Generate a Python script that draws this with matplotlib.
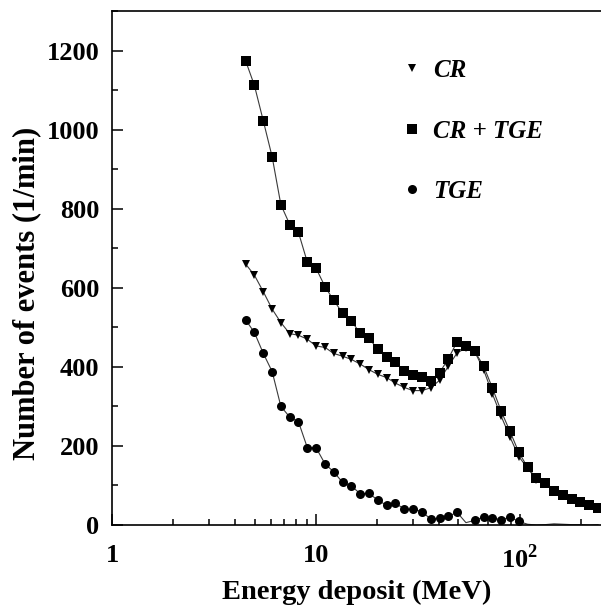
import numpy as np
import matplotlib
matplotlib.use('Agg')
import matplotlib.pyplot as plt
from matplotlib.ticker import FixedLocator, FixedFormatter, LogLocator, NullFormatter, MultipleLocator

plt.rcParams['font.family'] = 'Liberation Serif'
plt.rcParams['font.weight'] = 'bold'
plt.rcParams['mathtext.fontset'] = 'custom'
plt.rcParams['mathtext.rm'] = 'Liberation Serif:bold'
plt.rcParams['mathtext.bf'] = 'Liberation Serif:bold'

# energy bins (MeV)
energy = [4.52, 4.99, 5.52, 6.10, 6.73, 7.44, 8.21, 9.07, 10.0, 11.1,
          12.2, 13.5, 14.9, 16.5, 18.2, 20.1, 22.2, 24.5, 27.1, 29.9,
          33.1, 36.5, 40.4, 44.6, 49.2, 54.4, 60.1, 66.4, 73.3, 81.0,
          89.4, 98.8, 109.1, 120.5, 133.1, 147.0, 162.4, 179.4, 198.2, 218.9,
          241.8]

# counts per minute
cr_tge = [1174, 1112, 1022, 931, 810, 760, 740, 665, 650, 602,
          569, 536, 516, 485, 473, 444, 424, 412, 389, 380,
          374, 363, 385, 421, 463, 454, 439, 402, 347, 288,
          237, 184, 146, 118, 106, 87, 77, 65, 57, 50,
          42]
cr = [660, 632, 590, 546, 512, 484, 480, 470, 453, 449,
      434, 427, 419, 407, 393, 381, 373, 359, 348, 340,
      340, 347, 366, 402, 435, 448, 438, 393, 332, 275,
      223, 173, 144, 115, 104, 85, 75, 63, 55, 48,
      41]
tge = [519, 487, 434, 388, 300, 273, 261, 196, 196, 154,
       135, 108, 99, 79, 80, 63, 50, 56, 40, 40,
       34, 15, 17, 22, 32, 6, 12, 20, 18, 13,
       20, 9, 2, 0, 1, 3, 2, 1, 1, 0,
       1]
tge_marked = [i for i in range(32) if i != 25]

fig = plt.figure(figsize=(6.01, 6.10), dpi=100)
ax = fig.add_axes([0.1864, 0.1393, 0.8136, 0.8427])

line_kw = dict(color='#3a3a3a', lw=0.8, markeredgewidth=0)
ax.plot(energy, cr, marker='v', ms=6, mfc='black', label='CR', **line_kw)
ax.plot(energy, cr_tge, marker='s', ms=6.5, mfc='black', label='CR + TGE', **line_kw)
ax.plot(energy, tge, marker='o', ms=6.5, mfc='black', markevery=tge_marked,
        label='TGE', **line_kw)

ax.set_xscale('log')
ax.set_xlim(1, 250)
ax.set_ylim(0, 1300)

ax.xaxis.set_major_locator(FixedLocator([1, 10, 100]))
ax.xaxis.set_major_formatter(FixedFormatter(['1', '10', '$10^2$']))
ax.xaxis.set_minor_locator(LogLocator(base=10, subs=np.arange(2, 10)))
ax.xaxis.set_minor_formatter(NullFormatter())
ax.yaxis.set_major_locator(MultipleLocator(200))
ax.yaxis.set_minor_locator(MultipleLocator(100))

ax.tick_params(which='both', direction='in', top=False, right=False,
               width=1.1, labelsize=19)
ax.tick_params(which='major', length=8)
ax.tick_params(axis='x', which='major', pad=14)
ax.tick_params(axis='y', which='major', pad=9)
ax.tick_params(which='minor', length=4)
for lab in ax.get_xticklabels() + ax.get_yticklabels():
    lab.set_fontweight('bold')

for side in ['left', 'bottom', 'top']:
    ax.spines[side].set_linewidth(1.2)
ax.spines['right'].set_visible(False)

ax.set_xlabel('Energy deposit (MeV)', fontsize=20.5, fontweight='bold', labelpad=5)
ax.set_ylabel('Number of events (1/min)', fontsize=22, fontweight='bold')
ax.yaxis.set_label_coords(-0.145, 0.45)

leg = ax.legend(loc='upper left', bbox_to_anchor=(0.555, 0.95), frameon=False,
                labelspacing=1.5, handlelength=0.5, handletextpad=0.6,
                prop=dict(family='Liberation Serif', style='italic',
                          weight='bold', size=18))
for h in leg.legend_handles:
    h.set_linestyle('none')

fig.savefig('out.png', dpi=100)
